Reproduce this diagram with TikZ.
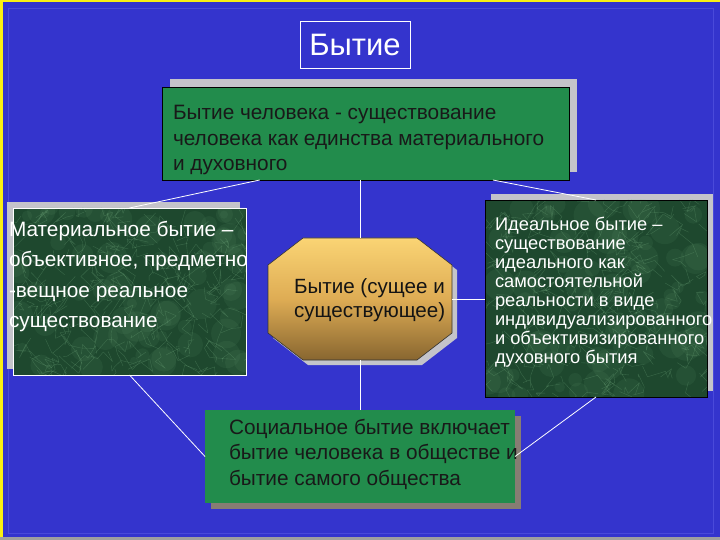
\documentclass[tikz,border=0pt]{standalone}
\usepackage{fontspec}
\setmainfont{Liberation Sans}
\usetikzlibrary{calc,shadows}
\definecolor{bgblue}{RGB}{52,52,205}
\definecolor{boxgreen}{RGB}{34,140,76}
\definecolor{marblegreen}{RGB}{30,72,46}
\definecolor{veingreen}{RGB}{140,200,150}
\definecolor{shadowgray}{RGB}{196,196,202}
\definecolor{shadowbrown}{RGB}{135,125,115}
\definecolor{goldtop}{RGB}{250,212,116}
\definecolor{goldbot}{RGB}{136,102,48}
\definecolor{frameyellow}{RGB}{250,240,20}
\newcommand\fstwenty{\fontsize{20.8bp}{25.5bp}\selectfont}
\newcommand\fsleft{\fontsize{20.8bp}{30bp}\selectfont}
\newcommand\fsoct{\fontsize{20.6bp}{24bp}\selectfont}
\newcommand\fsright{\fontsize{18.3bp}{18.9bp}\selectfont}
\newcommand\marblefill[4]{% x0 y0 w h
  \begin{scope}
    \clip (#1,#2) rectangle ({#1+#3},{#2+#4});
    \foreach \k in {1,...,70}{
      \fill[veingreen, opacity=0.07] ({#1+#3*rnd},{#2+#4*rnd}) circle ({4+12*rnd});
    }
    \foreach \k in {1,...,160}{
      \draw[veinline] ({#1+#3*rnd},{#2+#4*rnd}) -- ++({rand*14},{rand*14}) -- ++({rand*14},{rand*14}) -- ++({rand*14},{rand*14}) -- ++({rand*14},{rand*14});
    }
  \end{scope}}
\begin{document}
\begin{tikzpicture}[x=1bp,y=-1bp,
  box/.style={rectangle, inner sep=0pt, outer sep=0pt},
  connector/.style={draw=white, line width=0.8bp},
  txt/.style={inner sep=0pt, outer sep=0pt, align=left, anchor=base west},
  veinline/.style={draw=veingreen, line width=0.4bp, opacity=0.25, line join=round}
]
\pgfmathsetseed{4242}
% background
\fill[bgblue] (0,0) rectangle (720,540);
\useasboundingbox (0,0) rectangle (720,540);
\draw[draw={rgb,255:red,74;green,74;blue,218}, line width=0.6bp] (8,8) rectangle (713,533);
\fill[frameyellow] (0,0) rectangle (2.5,540);
\fill[frameyellow] (0,0) rectangle (720,1.8);
\fill[gray!75] (0,537) rectangle (720,540);

% title
\node[box, draw=white, line width=0.8bp, minimum width=110bp, minimum height=47bp,
      text=white, font=\fontsize{31bp}{36bp}\selectfont] (title) at (355,44.5) {Бытие};

% top box
\node[box, fill=boxgreen, draw=black, line width=0.6bp, minimum width=407bp, minimum height=93bp,
      general shadow={shadow xshift=8bp, shadow yshift=8bp, fill=shadowgray}] (top) at (365.5,133.5) {};
\node[txt, text=black!90, font=\fstwenty] (toptext) at (173,171)
  {Бытие человека - существование\\человека как единства материального\\и духовного};

% left box
\node[box, fill=marblegreen, minimum width=233bp, minimum height=167bp,
      general shadow={shadow xshift=-6bp, shadow yshift=6bp, fill=shadowgray}] (left) at (129.5,291.5) {};
\marblefill{13}{208}{233}{167}
\draw[white, line width=0.8bp] (left.south west) rectangle (left.north east);
\node[txt, text=white, font=\fsleft] (lefttext) at (9,327)
  {Материальное бытие –\\объективное, предметно\\-вещное реальное\\существование};

% octagon
\node[box, minimum width=184bp, minimum height=122bp] (oct) at (360,299) {};
\fill[shadowgray] ($(oct.north west)+(35,0)+(5,5)$) -- ($(oct.north east)+(-35,0)+(5,5)$)
  -- ($(oct.north east)+(0,27)+(5,5)$) -- ($(oct.south east)+(0,-27)+(5,5)$)
  -- ($(oct.south east)+(-35,0)+(5,5)$) -- ($(oct.south west)+(35,0)+(5,5)$)
  -- ($(oct.south west)+(0,-27)+(5,5)$) -- ($(oct.north west)+(0,27)+(5,5)$) -- cycle;
\shade[top color=goldtop, bottom color=goldbot, middle color={rgb,255:red,222;green,172;blue,84}]
  ($(oct.north west)+(35,0)$) -- ($(oct.north east)+(-35,0)$)
  -- ($(oct.north east)+(0,27)$) -- ($(oct.south east)+(0,-27)$)
  -- ($(oct.south east)+(-35,0)$) -- ($(oct.south west)+(35,0)$)
  -- ($(oct.south west)+(0,-27)$) -- ($(oct.north west)+(0,27)$) -- cycle;
\draw[black!80, line width=0.6bp]
  ($(oct.north west)+(35,0)$) -- ($(oct.north east)+(-35,0)$)
  -- ($(oct.north east)+(0,27)$) -- ($(oct.south east)+(0,-27)$)
  -- ($(oct.south east)+(-35,0)$) -- ($(oct.south west)+(35,0)$)
  -- ($(oct.south west)+(0,-27)$) -- ($(oct.north west)+(0,27)$) -- cycle;
\node[txt, text=black!92, font=\fsoct] (octtext) at (294,317)
  {Бытие (сущее и\\существующее)};

% right box
\node[box, fill=marblegreen, minimum width=222bp, minimum height=197bp,
      general shadow={shadow xshift=6bp, shadow yshift=6bp, fill=shadowgray}] (right) at (596,298.5) {};
\marblefill{485}{200}{222}{197}
\draw[black, line width=0.8bp] (right.south west) rectangle (right.north east);
\node[txt, text=white, font=\fsright] (righttext) at (495,363)
  {Идеальное бытие –\\существование\\идеального как\\самостоятельной\\реальности в виде\\индивидуализированного\\и объективизированного\\духовного бытия};

% bottom box
\node[box, fill=boxgreen, minimum width=310bp, minimum height=93bp,
      general shadow={shadow xshift=6bp, shadow yshift=-6bp, fill=shadowbrown}] (bot) at (360,456.5) {};
\node[txt, text=black!90, font=\fstwenty] (bottext) at (229,485)
  {Социальное бытие включает\\бытие человека в обществе и\\бытие самого общества};

% connectors
\draw[connector] ($(top.south west)!0.24!(top.south east)$) -- (left.north);
\draw[connector] ($(top.south west)!0.813!(top.south east)$) -- (right.north);
\draw[connector] (top.south -| oct.north) -- (oct.north);
\draw[connector] ($(oct.west)+(0,-4)$) -- ($(oct.west)+(0,-4)$ -| left.east);
\draw[connector] (oct.east) -- (oct.east -| right.west);
\draw[connector] (oct.south) -- (oct.south |- bot.north);
\draw[connector] (left.south) -- (bot.west);
\draw[connector] (right.south) -- (bot.east);
\end{tikzpicture}
\end{document}
